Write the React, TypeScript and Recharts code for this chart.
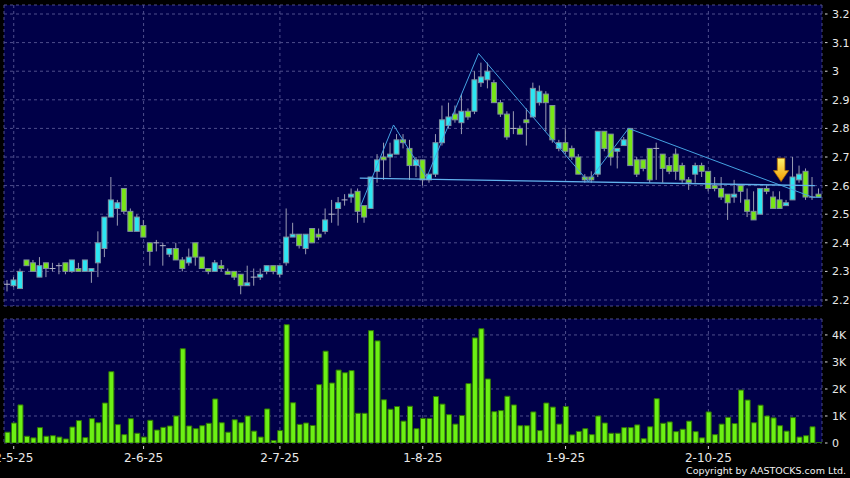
import React from 'react';
import {
  ComposedChart,
  BarChart,
  Bar,
  XAxis,
  YAxis,
  CartesianGrid,
  ReferenceLine,
  ReferenceDot,
} from 'recharts';

// daily candles, 30-4-25 .. late Oct 25 (one entry per trading day)
const OPEN = [
  2.255, 2.25, 2.24, 2.34, 2.33, 2.28, 2.33, 2.31, 2.32, 2.33,
  2.3, 2.31, 2.3, 2.3, 2.33, 2.38, 2.49, 2.52, 2.59, 2.51,
  2.44, 2.46, 2.4, 2.4, 2.39, 2.36, 2.38, 2.34, 2.33, 2.4,
  2.35, 2.31, 2.3, 2.32, 2.3, 2.3, 2.29, 2.25, 2.28, 2.28,
  2.3, 2.32, 2.29, 2.33, 2.42, 2.43, 2.38, 2.45, 2.43, 2.44,
  2.5, 2.52, 2.55, 2.56, 2.58, 2.53, 2.52, 2.65, 2.7, 2.7,
  2.71, 2.76, 2.73, 2.67, 2.69, 2.62, 2.64, 2.75, 2.81, 2.85,
  2.82, 2.86, 2.86, 2.96, 2.97, 2.96, 2.89, 2.85, 2.8, 2.8,
  2.83, 2.84, 2.89, 2.92, 2.88, 2.73, 2.75, 2.73, 2.7, 2.63,
  2.63, 2.64, 2.79, 2.78, 2.72, 2.74, 2.8, 2.69, 2.69, 2.73,
  2.73, 2.71, 2.67, 2.71, 2.67, 2.62, 2.64, 2.67, 2.65, 2.6,
  2.59, 2.57, 2.56, 2.6, 2.55, 2.51, 2.5, 2.59, 2.56, 2.55,
  2.53, 2.55, 2.62, 2.65, 2.56, 2.57,
];
const HIGH = [
  2.27, 2.28, 2.31, 2.34, 2.34, 2.35, 2.33, 2.33, 2.33, 2.33,
  2.34, 2.33, 2.34, 2.31, 2.44, 2.49, 2.63, 2.55, 2.59, 2.52,
  2.5, 2.48, 2.4, 2.41, 2.4, 2.38, 2.4, 2.35, 2.38, 2.4,
  2.35, 2.31, 2.34, 2.34, 2.31, 2.3, 2.29, 2.32, 2.31, 2.31,
  2.32, 2.32, 2.32, 2.52, 2.47, 2.43, 2.43, 2.45, 2.45, 2.52,
  2.55, 2.56, 2.57, 2.59, 2.59, 2.53, 2.63, 2.71, 2.75, 2.75,
  2.78, 2.78, 2.76, 2.7, 2.69, 2.64, 2.78, 2.88, 2.89, 2.88,
  2.92, 2.87, 3.0, 3.03, 3.03, 2.97, 2.9, 2.86, 2.86, 2.81,
  2.87, 2.96, 2.95, 2.93, 2.88, 2.76, 2.8, 2.74, 2.71, 2.64,
  2.65, 2.79, 2.79, 2.78, 2.73, 2.77, 2.8, 2.7, 2.69, 2.73,
  2.75, 2.71, 2.7, 2.73, 2.68, 2.63, 2.68, 2.68, 2.65, 2.63,
  2.63, 2.57, 2.62, 2.6, 2.59, 2.58, 2.59, 2.6, 2.58, 2.58,
  2.55, 2.7, 2.67, 2.66, 2.63, 2.59,
];
const LOW = [
  2.23, 2.245, 2.24, 2.32, 2.3, 2.28, 2.28, 2.3, 2.29, 2.29,
  2.295, 2.3, 2.3, 2.26, 2.28, 2.35, 2.49, 2.46, 2.5, 2.44,
  2.44, 2.42, 2.32, 2.37, 2.32, 2.35, 2.34, 2.3, 2.32, 2.32,
  2.31, 2.29, 2.3, 2.3, 2.29, 2.27, 2.22, 2.25, 2.25, 2.27,
  2.29, 2.29, 2.28, 2.32, 2.42, 2.38, 2.36, 2.4, 2.41, 2.43,
  2.47, 2.46, 2.53, 2.54, 2.47, 2.47, 2.52, 2.61, 2.62, 2.63,
  2.71, 2.73, 2.62, 2.63, 2.6, 2.61, 2.63, 2.74, 2.8, 2.82,
  2.78, 2.83, 2.85, 2.945, 2.94, 2.89, 2.84, 2.76, 2.78, 2.78,
  2.74, 2.84, 2.88, 2.79, 2.75, 2.72, 2.71, 2.69, 2.64, 2.61,
  2.61, 2.63, 2.72, 2.67, 2.66, 2.74, 2.67, 2.63, 2.65, 2.61,
  2.62, 2.61, 2.64, 2.62, 2.61, 2.585, 2.61, 2.63, 2.58, 2.58,
  2.55, 2.48, 2.54, 2.54, 2.49, 2.48, 2.5, 2.57, 2.52, 2.52,
  2.53, 2.55, 2.61, 2.55, 2.55, 2.56,
];
const CLOSE = [
  2.255, 2.27, 2.3, 2.32, 2.3, 2.32, 2.31, 2.31, 2.32, 2.3,
  2.34, 2.3, 2.34, 2.31, 2.4, 2.49, 2.55, 2.54, 2.51, 2.44,
  2.49, 2.42, 2.37, 2.4, 2.39, 2.38, 2.34, 2.31, 2.35, 2.35,
  2.31, 2.3, 2.33, 2.31, 2.29, 2.28, 2.25, 2.26, 2.28, 2.29,
  2.32, 2.3, 2.32, 2.42, 2.43, 2.39, 2.43, 2.4, 2.42, 2.48,
  2.5, 2.54, 2.55, 2.57, 2.51, 2.49, 2.63, 2.69, 2.69, 2.71,
  2.76, 2.75, 2.67, 2.69, 2.62, 2.64, 2.75, 2.83, 2.84, 2.83,
  2.86, 2.84, 2.97, 2.98, 3.0, 2.89, 2.85, 2.77, 2.8, 2.78,
  2.82, 2.94, 2.93, 2.89, 2.76, 2.75, 2.72, 2.7, 2.64, 2.62,
  2.62, 2.79, 2.73, 2.7, 2.73, 2.76, 2.67, 2.64, 2.66, 2.62,
  2.73, 2.66, 2.65, 2.65, 2.62, 2.61, 2.67, 2.65, 2.59, 2.59,
  2.56, 2.54, 2.57, 2.58, 2.51, 2.48, 2.59, 2.58, 2.52, 2.52,
  2.54, 2.63, 2.64, 2.56, 2.56, 2.56,
];
const VOLUME = [
  400, 740, 1410, 250, 190, 570, 250, 270, 220, 150,
  590, 830, 200, 900, 750, 1480, 2640, 680, 310, 900,
  360, 220, 840, 480, 580, 630, 1000, 3490, 630, 530,
  640, 730, 1630, 750, 400, 860, 750, 1000, 440, 220,
  1260, 90, 460, 4380, 1490, 690, 740, 650, 2160, 3400,
  2220, 2700, 2600, 2680, 1100, 1100, 4160, 3780, 1600, 1250,
  1350, 810, 1360, 530, 910, 910, 1720, 1440, 1050, 700,
  1020, 2200, 3890, 4230, 2370, 1160, 1200, 1730, 1410, 640,
  640, 1150, 460, 1480, 1330, 700, 1350, 300, 430, 530,
  310, 1000, 740, 360, 360, 570, 570, 670, 160, 600,
  1640, 730, 780, 420, 510, 810, 420, 190, 1150, 310,
  700, 950, 720, 1960, 1590, 750, 1400, 1000, 930, 640,
  440, 940, 220, 270, 600, 20,
];

const TICK_INDEX = [1, 21, 42, 64, 86, 108];
const TICK_LABELS = ['2-5-25', '2-6-25', '2-7-25', '1-8-25', '1-9-25', '2-10-25'];
const PRICE_TICKS = [2.2, 2.3, 2.4, 2.5, 2.6, 2.7, 2.8, 2.9, 3, 3.1, 3.2];
const VOLUME_TICKS = [0, 1000, 2000, 3000, 4000];

// head & shoulders drawing (x = trading-day index)
const ZIGZAG = [
  { x: 54.4, y: 2.527 },
  { x: 59.5, y: 2.812 },
  { x: 64.6, y: 2.628 },
  { x: 72.6, y: 3.062 },
  { x: 89.5, y: 2.614 },
  { x: 95.7, y: 2.8 },
  { x: 124.1, y: 2.559 },
  { x: 125.4, y: 2.559 },
];
const NECKLINE = [
  { x: 54.3, y: 2.626 },
  { x: 124.4, y: 2.6 },
];
const SIGNAL = { x: 119.2, y: 2.655 };

const rows = OPEN.map((o, i) => ({
  i,
  o,
  h: HIGH[i],
  l: LOW[i],
  c: CLOSE[i],
  v: VOLUME[i],
}));

const FONT = '"DejaVu Sans", Verdana, sans-serif';
const BG = '#000048';
const GRID = '#4e4e8c';

function Candle(props: any) {
  const { x, y, width, height, payload } = props;
  const { o, h, l, c } = payload;
  const top = Math.min(y, y + height);
  const span = Math.abs(height);
  const ppu = h > l ? span / (h - l) : 0;
  const cx = x + width / 2;
  const bodyTop = top + (h - Math.max(o, c)) * ppu;
  const bodyH = Math.abs(o - c) * ppu;

  return (
    <g>
      <line x1={cx} x2={cx} y1={top} y2={top + span} stroke="#9a9cb2" strokeWidth={1} />
      {o === c ? (
        <line x1={x} x2={x + width} y1={bodyTop} y2={bodyTop} stroke="#b4b6c8" strokeWidth={1} />
      ) : (
        <rect
          x={x + 0.5}
          y={bodyTop}
          width={width - 1}
          height={Math.max(bodyH, 2)}
          fill={c > o ? '#2ce6f2' : '#78e616'}
          stroke="#7f8fa0"
          strokeWidth={1}
        />
      )}
    </g>
  );
}

function Arrow(props: any) {
  const { cx, cy } = props;
  const d = `M${cx - 3.8},${cy - 11.7} h7.6 v12.4 h3.8 L${cx},${cy + 11.7} L${cx - 7.6},${cy + 0.7} h3.8 Z`;
  return (
    <g>
      <defs>
        <linearGradient id="arrowFill" x1="0" y1="0" x2="0" y2="1">
          <stop offset="0" stopColor="#fff36e" />
          <stop offset="1" stopColor="#f29c00" />
        </linearGradient>
      </defs>
      <path d={d} fill="url(#arrowFill)" stroke="#b06a00" strokeWidth={0.8} />
    </g>
  );
}

function RightTick(props: any) {
  const { x, y, payload, fmt } = props;
  return (
    <g>
      <line x1={x - 5} x2={x - 2.5} y1={y} y2={y} stroke="#d8d8d8" />
      <text x={x + 2} y={y} dy={4} fill="#e8e8e8" fontSize={11} fontFamily={FONT}>
        {fmt ? fmt(payload.value) : payload.value}
      </text>
    </g>
  );
}

function DateTick(props: any) {
  const { x, y, payload } = props;
  const k = TICK_INDEX.indexOf(payload.value);
  return (
    <g>
      <line x1={x} x2={x} y1={y - 5} y2={y - 2} stroke="#d8d8d8" />
      <text x={x} y={y} dy={11} textAnchor="middle" fill="#e8e8e8" fontSize={12} fontFamily={FONT}>
        {k >= 0 ? TICK_LABELS[k] : ''}
      </text>
    </g>
  );
}

const volFmt = (v: number) => (v === 0 ? '0' : `${v / 1000}K`);

export default function App() {
  return (
    <div
      style={{
        position: 'absolute',
        left: 0,
        top: 0,
        width: 850,
        height: 478,
        background: '#000',
        overflow: 'hidden',
        fontFamily: FONT,
      }}
    >
      <ComposedChart
        width={850}
        height={312}
        data={rows}
        margin={{ top: 5, right: 0, bottom: 6, left: 4 }}
        barCategoryGap={0}
      >
        <CartesianGrid fill={BG} stroke={GRID} strokeDasharray="3 3" />
        <XAxis dataKey="i" ticks={TICK_INDEX} hide />
        <XAxis xAxisId="num" type="number" dataKey="i" domain={[-0.5, 125.5]} hide />
        <YAxis
          orientation="right"
          width={28}
          domain={[2.179, 3.2315]}
          allowDataOverflow
          ticks={PRICE_TICKS}
          tickSize={6}
          tickMargin={2}
          axisLine={false}
          tickLine={false}
          tick={<RightTick />}
        />
        <Bar
          dataKey={(d: any) => [d.l, d.h]}
          barSize={6}
          shape={<Candle />}
          isAnimationActive={false}
        />
        {ZIGZAG.slice(1).map((p, k) => (
          <ReferenceLine
            key={`zz-${k}`}
            xAxisId="num"
            segment={[ZIGZAG[k], p]}
            stroke="#45a2e2"
            strokeWidth={1}
            ifOverflow="visible"
          />
        ))}
        <ReferenceLine
          xAxisId="num"
          segment={NECKLINE}
          stroke="#62b2ee"
          strokeWidth={1.4}
          ifOverflow="visible"
        />
        <ReferenceDot
          xAxisId="num"
          x={SIGNAL.x}
          y={SIGNAL.y}
          shape={<Arrow />}
          ifOverflow="visible"
        />
      </ComposedChart>
      <BarChart
        width={850}
        height={166}
        data={rows}
        margin={{ top: 7, right: 0, bottom: 0, left: 4 }}
        barCategoryGap={0}
      >
        <CartesianGrid fill={BG} stroke={GRID} strokeDasharray="3 3" />
        <XAxis
          dataKey="i"
          ticks={TICK_INDEX}
          interval={0}
          height={35}
          tickSize={6}
          tickMargin={2}
          axisLine={false}
          tickLine={false}
          tick={<DateTick />}
        />
        <YAxis
          orientation="right"
          width={28}
          domain={[0, 4590]}
          allowDataOverflow
          ticks={VOLUME_TICKS}
          tickSize={6}
          tickMargin={2}
          axisLine={false}
          tickLine={false}
          tick={<RightTick fmt={volFmt} />}
        />
        <Bar
          dataKey="v"
          barSize={5}
          fill="#6cf014"
          stroke="#2f7406"
          strokeWidth={1}
          isAnimationActive={false}
        />
      </BarChart>
      <div
        style={{
          position: 'absolute',
          right: 4,
          top: 465,
          fontSize: 9.5,
          lineHeight: '12px',
          color: '#f0f0f0',
          whiteSpace: 'nowrap',
        }}
      >
        Copyright by AASTOCKS.com Ltd.
      </div>
    </div>
  );
}
